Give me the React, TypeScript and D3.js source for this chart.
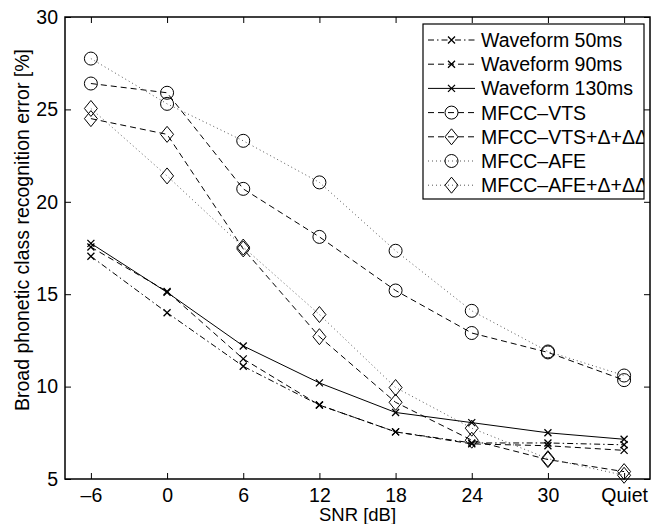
import * as d3 from "d3";
import React from "react";

// SNR conditions on the x axis
const snrLabels = ["–6", "0", "6", "12", "18", "24", "30", "Quiet"];
const yTicks = [5, 10, 15, 20, 25, 30];

// error rates [%] per condition
const wave50 = [17.05, 14.0, 11.1, 9.0, 7.55, 6.95, 6.95, 6.85];
const wave90 = [17.55, 15.15, 11.5, 9.0, 7.55, 6.9, 6.8, 6.55];
const wave130 = [17.75, 15.1, 12.2, 10.2, 8.6, 8.05, 7.5, 7.15];
const mfccVts = [26.4, 25.9, 20.7, 18.1, 15.2, 12.9, 11.85, 10.35];
const mfccVtsD = [24.5, 23.65, 17.45, 12.7, 9.15, 7.1, 6.05, 5.4];
const mfccAfe = [27.75, 25.3, 23.3, 21.05, 17.35, 14.1, 11.9, 10.6];
const mfccAfeD = [25.05, 21.4, 17.55, 13.9, 9.95, 7.75, 6.1, 5.2];

const seriesNames = [
  "Waveform 50ms",
  "Waveform 90ms",
  "Waveform 130ms",
  "MFCC–VTS",
  "MFCC–VTS+Δ+ΔΔ",
  "MFCC–AFE",
  "MFCC–AFE+Δ+ΔΔ",
];

const DASHDOT = "6,3,1.5,3";
const DASHED = "6,4";
const DOTTED = "1,3";

export default function App() {
  const ref = React.useRef<HTMLDivElement>(null);

  React.useEffect(() => {
    const el = ref.current;
    if (!el) return;
    el.innerHTML = "";

    const W = 657;
    const H = 524;
    const margin = { left: 65, top: 17, right: 7, bottom: 45 };
    const width = W - margin.left - margin.right;
    const height = H - margin.top - margin.bottom;
    const font = "'Liberation Sans', Arial, sans-serif";

    const series = [
      { name: seriesNames[0], values: wave50, dash: DASHDOT, marker: "x", color: "#000" },
      { name: seriesNames[1], values: wave90, dash: DASHED, marker: "x", color: "#000" },
      { name: seriesNames[2], values: wave130, dash: null, marker: "x", color: "#000" },
      { name: seriesNames[3], values: mfccVts, dash: DASHED, marker: "o", color: "#000" },
      { name: seriesNames[4], values: mfccVtsD, dash: DASHED, marker: "d", color: "#000" },
      { name: seriesNames[5], values: mfccAfe, dash: DOTTED, marker: "o", color: "#555" },
      { name: seriesNames[6], values: mfccAfeD, dash: DOTTED, marker: "d", color: "#555" },
    ];

    const svg = d3
      .select(el)
      .append("svg")
      .attr("width", W)
      .attr("height", H)
      .style("position", "absolute")
      .style("left", "0px")
      .style("top", "0px")
      .style("background", "#fff")
      .style("font-family", font);

    const g = svg.append("g").attr("transform", `translate(${margin.left},${margin.top})`);

    const x = d3.scalePoint<string>().domain(snrLabels).range([0, width]).padding(0.34);
    const y = d3.scaleLinear().domain([5, 30]).range([height, 0]);

    // axes, ticks pointing inward
    const xAxis = g
      .append("g")
      .attr("transform", `translate(0,${height})`)
      .call(d3.axisBottom(x).tickSizeInner(-6).tickSizeOuter(0).tickPadding(9));
    const yAxis = g
      .append("g")
      .call(d3.axisLeft(y).tickValues(yTicks).tickSizeInner(-6).tickSizeOuter(0).tickPadding(7));
    g.append("g").call(d3.axisTop(x).tickSizeInner(-6).tickSizeOuter(0).tickFormat(() => ""));
    g.append("g")
      .attr("transform", `translate(${width},0)`)
      .call(d3.axisRight(y).tickValues(yTicks).tickSizeInner(-6).tickSizeOuter(0).tickFormat(() => ""));

    g.selectAll(".domain").remove();
    g.selectAll(".tick line").attr("stroke", "#000").attr("stroke-width", 1);
    [xAxis, yAxis].forEach((a) =>
      a.selectAll("text").attr("fill", "#000").style("font-size", "19.5px").style("font-family", font)
    );
    xAxis.selectAll("text").attr("dy", "0.71em");

    g.append("rect")
      .attr("width", width)
      .attr("height", height)
      .attr("fill", "none")
      .attr("stroke", "#000")
      .attr("stroke-width", 1.5);

    const drawMarker = (sel: any, type: string, cx: number, cy: number) => {
      if (type === "x") {
        const s = 3.5;
        sel.append("path")
          .attr("d", `M${cx - s},${cy - s}L${cx + s},${cy + s}M${cx - s},${cy + s}L${cx + s},${cy - s}`)
          .attr("stroke", "#000")
          .attr("stroke-width", 1.3)
          .attr("fill", "none");
      } else if (type === "o") {
        sel.append("circle")
          .attr("cx", cx)
          .attr("cy", cy)
          .attr("r", 6.5)
          .attr("fill", "none")
          .attr("stroke", "#000")
          .attr("stroke-width", 1);
      } else {
        const s = 8;
        sel.append("path")
          .attr("d", `M${cx},${cy - s}L${cx + 6.5},${cy}L${cx},${cy + s}L${cx - 6.5},${cy}Z`)
          .attr("fill", "none")
          .attr("stroke", "#000")
          .attr("stroke-width", 1);
      }
    };

    const line = d3
      .line<number>()
      .x((d, i) => x(snrLabels[i]) as number)
      .y((d) => y(d));

    series.forEach((s) => {
      const sg = g.append("g");
      sg.append("path")
        .datum(s.values)
        .attr("d", line)
        .attr("fill", "none")
        .attr("stroke", s.color)
        .attr("stroke-width", 1)
        .attr("stroke-dasharray", s.dash);
      s.values.forEach((v, i) => drawMarker(sg, s.marker, x(snrLabels[i]) as number, y(v)));
    });

    // legend (text clipped at the box like the original)
    svg.append("clipPath")
      .attr("id", "legend-clip")
      .append("rect")
      .attr("width", 221)
      .attr("height", 175);
    const lg = svg.append("g").attr("transform", "translate(423,24)");
    lg.append("rect")
      .attr("width", 221)
      .attr("height", 175)
      .attr("fill", "#fff");
    const inner = lg.append("g").attr("clip-path", "url(#legend-clip)");
    series.forEach((s, i) => {
      const cy = 16 + i * 24.2;
      inner.append("line")
        .attr("x1", 5)
        .attr("x2", 52)
        .attr("y1", cy)
        .attr("y2", cy)
        .attr("stroke", s.color)
        .attr("stroke-width", 1)
        .attr("stroke-dasharray", s.dash);
      drawMarker(inner, s.marker, 28.5, cy);
      inner.append("text")
        .attr("x", 58)
        .attr("y", cy)
        .attr("dy", "0.36em")
        .style("font-size", "19.5px")
        .attr("fill", "#000")
        .text(s.name);
    });
    lg.append("rect")
      .attr("width", 221)
      .attr("height", 175)
      .attr("fill", "none")
      .attr("stroke", "#000")
      .attr("stroke-width", 1.2);

    // axis labels
    svg.append("text")
      .attr("x", margin.left + width / 2)
      .attr("y", 521)
      .attr("text-anchor", "middle")
      .style("font-size", "18.5px")
      .text("SNR [dB]");
    svg.append("text")
      .attr("transform", "translate(29,230) rotate(-90)")
      .attr("text-anchor", "middle")
      .style("font-size", "19.5px")
      .text("Broad phonetic class recognition error [%]");
  }, []);

  return <div ref={ref}></div>;
}
